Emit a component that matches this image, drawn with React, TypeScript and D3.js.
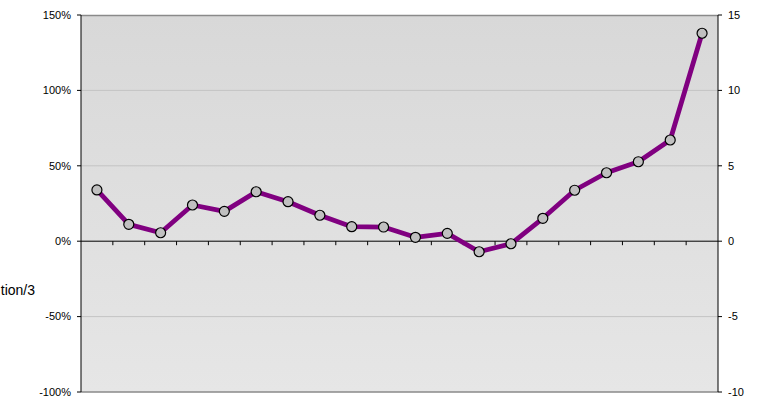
import React from "react";
import * as d3 from "d3";

const categories: number[] = Array.from({ length: 20 }, (_, i) => i + 1);
const values: number[] = [34.0, 11.2, 5.6, 24.0, 19.8, 32.8, 26.2, 17.2, 9.6, 9.4, 2.6, 5.2, -7.0, -1.7, 15.2, 33.8, 45.4, 52.7, 67.1, 137.9];
const leftTicks: number[] = [-100, -50, 0, 50, 100, 150];
const rightTicks: number[] = [-10, -5, 0, 5, 10, 15];
const sideLabel = "tion/3";

export default function App() {
  const W = 781, H = 401;
  const left = 81, right = 718, top = 15, bottom = 392;
  const x = d3.scaleBand<number>().domain(categories).range([left, right]);
  const y = d3.scaleLinear().domain([-100, 150]).range([bottom, top]);
  const y2 = d3.scaleLinear().domain([-10, 15]).range([bottom, top]);
  const line = d3.line<number>()
    .x((_, i) => (x(categories[i]) as number) + x.bandwidth() / 2)
    .y((d) => y(d));
  const font = "'Liberation Sans', Arial, sans-serif";
  const zero = y(0);
  return (
    <svg width={W} height={H} style={{ position: "absolute", left: 0, top: 0 }} fontFamily={font}>
      <defs>
        <linearGradient id="bg" x1="0" y1="0" x2="0" y2="1">
          <stop offset="0" stopColor="#d8d8d8" />
          <stop offset="1" stopColor="#e6e6e6" />
        </linearGradient>
      </defs>
      <rect x={0} y={0} width={W} height={H} fill="#ffffff" />
      <rect x={left} y={top} width={right - left} height={bottom - top} fill="url(#bg)" />
      {leftTicks.filter((t) => t !== 0 && t !== 150 && t !== -100).map((t) => (
        <line key={"g" + t} x1={left} x2={right} y1={y(t)} y2={y(t)} stroke="#c4c4c4" strokeWidth={1} />
      ))}
      <line x1={left} x2={right} y1={top + 0.5} y2={top + 0.5} stroke="#8a8a8a" strokeWidth={1.5} />
      <line x1={left} x2={right} y1={bottom} y2={bottom} stroke="#8a8a8a" strokeWidth={1.5} />
      <line x1={left} x2={left} y1={top} y2={bottom} stroke="#000" strokeWidth={1} />
      <line x1={right} x2={right} y1={top} y2={bottom} stroke="#000" strokeWidth={1} />
      <line x1={left} x2={right} y1={zero} y2={zero} stroke="#000" strokeWidth={1} />
      {categories.slice(1).map((c) => (
        <line key={"xt" + c} x1={x(c) as number} x2={x(c) as number} y1={zero} y2={zero + 4} stroke="#000" strokeWidth={1} />
      ))}
      {leftTicks.map((t) => (
        <g key={"l" + t}>
          <line x1={left - 4} x2={left} y1={y(t)} y2={y(t)} stroke="#000" />
          <text x={71} y={y(t)} dy="0.35em" textAnchor="end" fontSize={11} fill="#000">{t + "%"}</text>
        </g>
      ))}
      {rightTicks.map((t) => (
        <g key={"r" + t}>
          <line x1={right} x2={right + 4} y1={y2(t)} y2={y2(t)} stroke="#000" />
          <text x={728} y={y2(t)} dy="0.35em" textAnchor="start" fontSize={11} fill="#000">{String(t)}</text>
        </g>
      ))}
      <text x={35} y={295} textAnchor="end" fontSize={14} fill="#000">{sideLabel}</text>
      <path d={line(values) || ""} fill="none" stroke="#800080" strokeWidth={4.8} strokeLinejoin="round" />
      {values.map((v, i) => (
        <circle key={"p" + i} cx={(x(categories[i]) as number) + x.bandwidth() / 2} cy={y(v)} r={5} fill="#c0c0c0" stroke="#000" strokeWidth={1.2} />
      ))}
    </svg>
  );
}
